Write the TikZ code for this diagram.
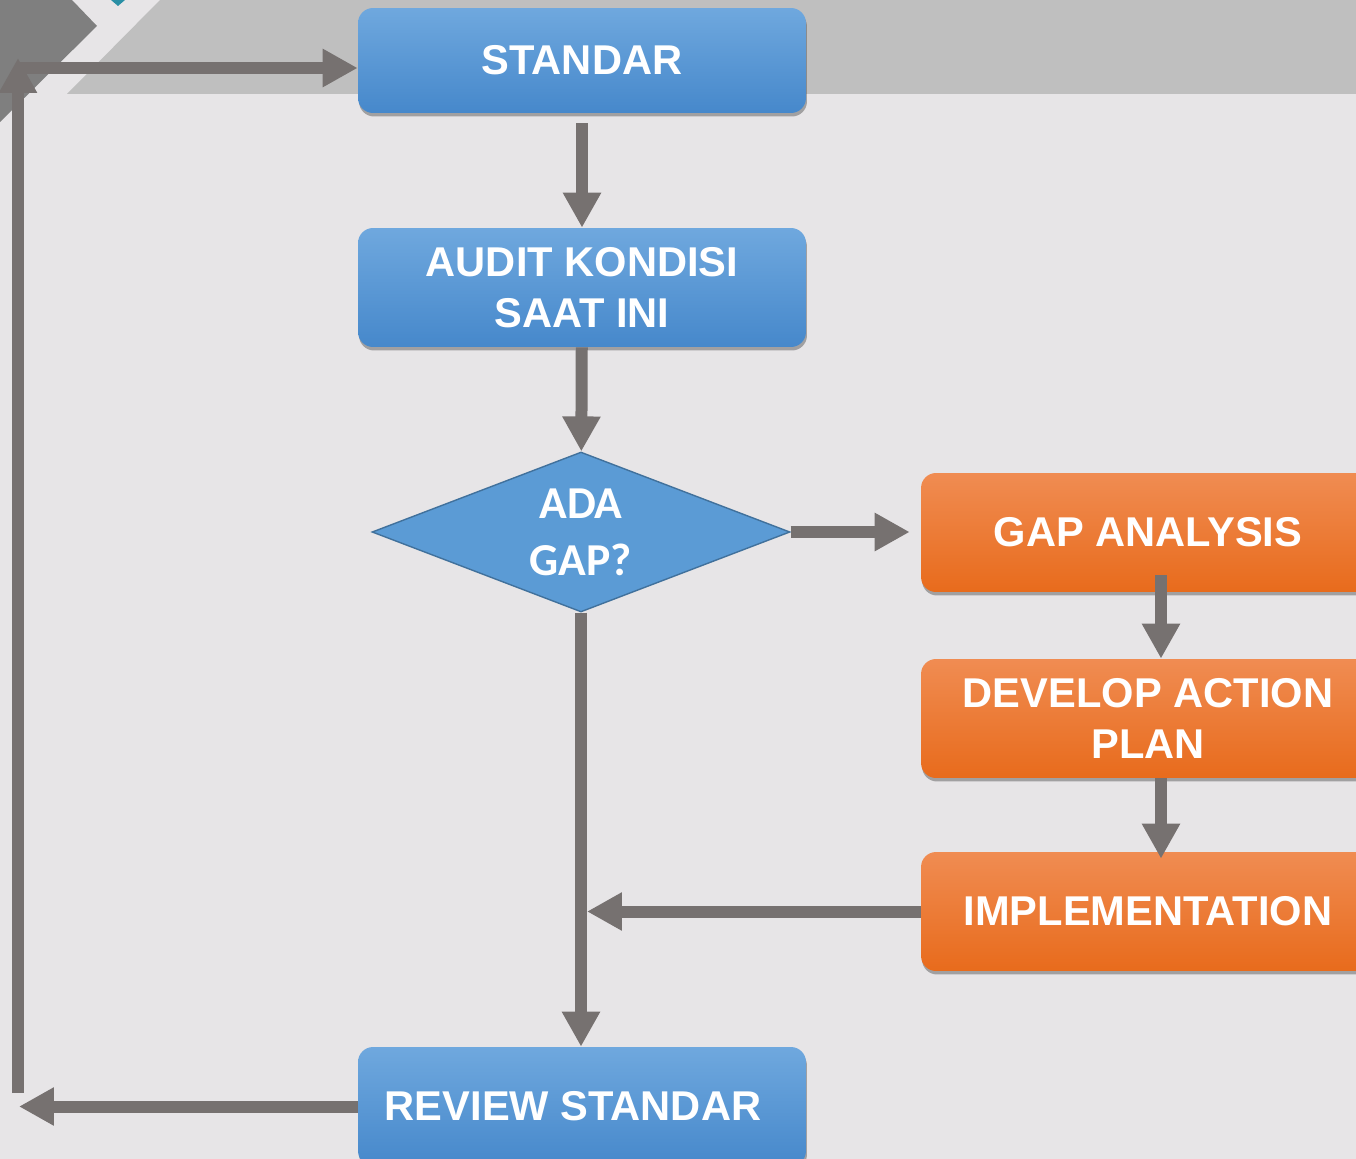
\documentclass[tikz,border=0pt]{standalone}
\usepackage{fontspec}
\setmainfont{Liberation Sans}
\newfontfamily\calibrifont{Carlito}
\usetikzlibrary{positioning,shapes.geometric,arrows.meta,shadows}
\definecolor{paper}{HTML}{E7E5E7}
\definecolor{band}{HTML}{BFBFBF}
\definecolor{corner}{HTML}{7F7F7F}
\definecolor{cornerteal}{HTML}{2A8FA5}
\definecolor{arrowgray}{HTML}{767170}
\definecolor{bluetop}{HTML}{6FA8DE}
\definecolor{bluebot}{HTML}{4688CB}
\definecolor{orangetop}{HTML}{F08C52}
\definecolor{orangebot}{HTML}{E86B1C}
\definecolor{diafill}{HTML}{5B9BD5}
\definecolor{diadraw}{HTML}{41719C}
\begin{document}
\begin{tikzpicture}[x=0.02cm,y=-0.02cm,
	box/.style={rounded corners=0.3cm, minimum width=8.96cm, minimum height=2.38cm, text=white,
		font=\bfseries\fontsize{23.7}{29}\selectfont, align=center,
		drop shadow={shadow xshift=0.02cm, shadow yshift=-0.07cm, opacity=0.45, fill=black!70}},
	bluebox/.style={box, top color=bluetop, bottom color=bluebot},
	orangebox/.style={box, top color=orangetop, bottom color=orangebot, minimum width=9.08cm},
	decision/.style={diamond, aspect=2.6, minimum width=8.36cm, minimum height=3.2cm, inner sep=0pt,
		fill=diafill, draw=diadraw, line width=0.8pt, text=white,
		font=\calibrifont\bfseries\fontsize{26}{32.4}\selectfont, align=center},
	flow/.style={draw=arrowgray, line width=0.24cm, -{Triangle[length=0.7cm,width=0.72cm]}}]
\path[use as bounding box, clip] (0,0) rectangle (1356,1159);

% background
\fill[paper] (0,0) rectangle (1356,1159);
\fill[band] (160,0) -- (1356,0) -- (1356,94) -- (67,94) -- cycle;
\fill[corner] (0,0) -- (72,0) -- (97,26) -- (0,122) -- cycle;
\fill[cornerteal] (111,0) -- (125,0) -- (118,6) -- cycle;

% boxes
\node[bluebox, minimum height=2.1cm] (standar) at (582,60.5) {STANDAR};
\node[bluebox] (audit) at (582,287.5) {AUDIT KONDISI\\SAAT INI};
\node[decision] (adagap) at (581,532) {ADA\\GAP?};
\node[orangebox] (gapan) at (1148,532.5) {GAP ANALYSIS};
\node[orangebox] (action) at (1148,718.5) {DEVELOP ACTION\\PLAN};
\node[orangebox] (impl) at (1148,911.5) {IMPLEMENTATION};
\node[bluebox] (review) at (582,1106.5) {\hspace*{-0.36cm}REVIEW STANDAR};

% main column
\draw[flow, shorten <=0.2cm] (standar) -- (audit);
\draw[flow] (audit) -- (adagap);
\draw[flow, shorten >=0.22cm] (adagap.east) -- (adagap.east -| gapan.west);
\draw[flow] (adagap.south) -- (adagap.south |- review.north);

% orange column
\draw[flow] ([xshift=0.26cm,yshift=0.34cm]gapan.south) -- ([xshift=0.26cm]action.north);
\draw[flow, shorten >=-0.14cm] ([xshift=0.26cm]action.south) -- ([xshift=0.26cm]impl.north);
\draw[flow, shorten >=0.12cm] (impl.west) -- (impl.west -| adagap.south);

% back to standar
\coordinate (backlow) at (19,1106);
\coordinate (backup) at (18,1093);
\coordinate (backtop) at (18,58);
\coordinate (backin) at (18,68);
\draw[flow] (review.west) -- (review.west -| backlow);
\draw[flow] (backup) -- (backtop);
\draw[flow] (backin) -- (backin -| standar.west);

\end{tikzpicture}
\end{document}
